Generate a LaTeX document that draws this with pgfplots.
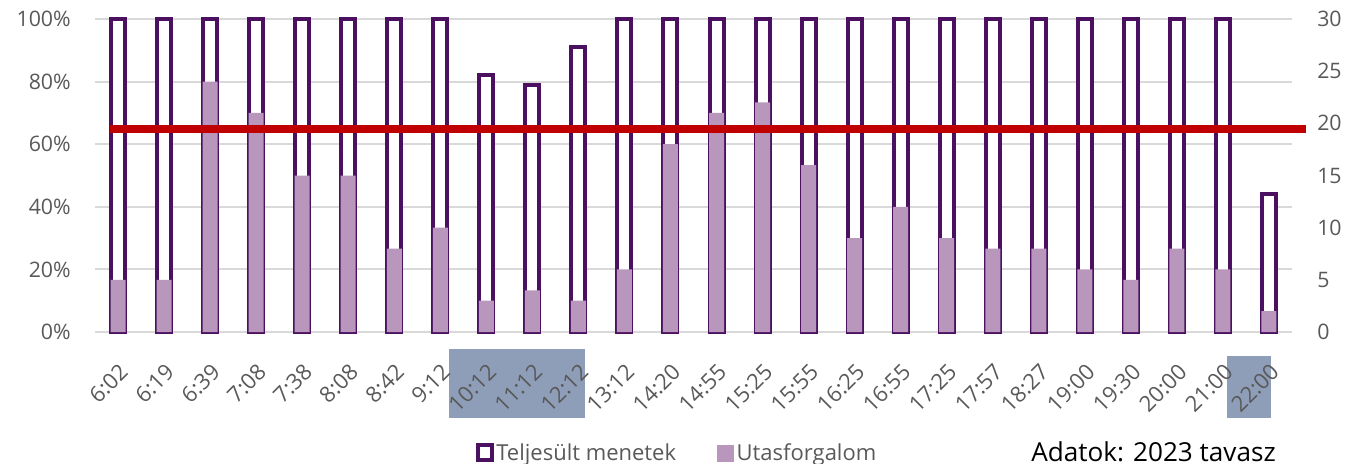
\documentclass[border=0pt]{standalone}
\usepackage{fontspec}
\setmainfont{Open Sans}
\usepackage{pgfplots}
\pgfplotsset{compat=1.18}
\usepackage{pgfplotstable}
\definecolor{outl}{HTML}{4B1160}
\definecolor{fillc}{HTML}{B997BD}
\definecolor{redl}{HTML}{C00000}
\definecolor{boxc}{HTML}{8F9EB8}
\definecolor{gridc}{HTML}{D9D9D9}
\definecolor{txt}{HTML}{595959}

\pgfplotstableread{
idx label menet utas
0 6:02 100 5
1 6:19 100 5
2 6:39 100 24
3 7:08 100 21
4 7:38 100 15
5 8:08 100 15
6 8:42 100 8
7 9:12 100 10
8 10:12 82 3
9 11:12 79 4
10 12:12 91 3
11 13:12 100 6
12 14:20 100 18
13 14:55 100 21
14 15:25 100 22
15 15:55 100 16
16 16:25 100 9
17 16:55 100 12
18 17:25 100 9
19 17:57 100 8
20 18:27 100 8
21 19:00 100 6
22 19:30 100 5
23 20:00 100 8
24 21:00 100 6
25 22:00 44 2
}\data

\pgfplotsset{
  common/.style={
    at={(0,0)}, anchor=south west, scale only axis,
    width=897.75pt, height=234.75pt,
    xmin=-0.5, xmax=25.5, clip=false,
    axis line style={draw=none}, major tick length=0pt,
    /pgf/number format/assume math mode=true,
    tick label style={font=\fontsize{16}{19}\selectfont, text=txt},
  },
}

\begin{document}
\begin{tikzpicture}
\useasboundingbox (-71.25pt,-99pt) rectangle (938.25pt,249pt);
\begin{axis}[common,
  ymin=0, ymax=100,
  ytick={0,20,...,100},
  yticklabel={\pgfmathprintnumber{\tick}\%},
  yticklabel style={inner sep=0pt, anchor=east, xshift=-18pt},
  ymajorgrids, grid style={gridc, line width=1.5pt},
  xtick=\empty,
]
\fill[boxc] (axis cs:7.19,-5.43) rectangle (axis cs:10.14,-27.5);
\fill[boxc] (axis cs:24.09,-7.67) rectangle (axis cs:25.04,-27.5);
\addplot[ybar, bar width=10.5pt, draw=outl, line width=3pt, fill=white] table[x=idx,y=menet]{\data};
\end{axis}
\begin{axis}[common,
  ymin=0, ymax=30,
  axis y line*=right,
  ytick={0,5,...,30},
  yticklabel style={inner sep=0pt, anchor=west, xshift=18.75pt},
  xtick={0,...,25},
  xticklabels from table={\data}{label},
  xticklabel style={inner sep=0pt, xshift=4.5pt, yshift=-27pt, rotate=45, anchor=east, font=\fontsize{16.5}{19}\selectfont},
  legend columns=2,
  legend style={draw=none, fill=none, at={(rel axis cs:0.315,-0.387)}, anchor=west,
    font=\fontsize{16.5}{19}\selectfont, text=txt,
    /tikz/every even column/.append style={column sep=29pt}},
]
\addplot[ybar, bar width=11.25pt, fill=fillc, draw=none, forget plot] table[x=idx,y=utas]{\data};
\addplot[redl, line width=6pt, forget plot] coordinates {(-0.17,19.5) (25.8,19.5)};
\addlegendimage{legend image code/.code={\draw[outl, line width=3pt, fill=white] (0pt,-5pt) rectangle (10pt,6pt);}}
\addlegendentry{Teljesült menetek}
\addlegendimage{legend image code/.code={\fill[fillc] (-1pt,-6pt) rectangle (11pt,6pt);}}
\addlegendentry{Utasforgalom}
\node[anchor=base west, inner sep=0pt, font=\fontsize{19.6}{24}\selectfont] at (rel axis cs:0.782,-0.414) {Adatok: 2023 tavasz};
\end{axis}
\end{tikzpicture}
\end{document}
